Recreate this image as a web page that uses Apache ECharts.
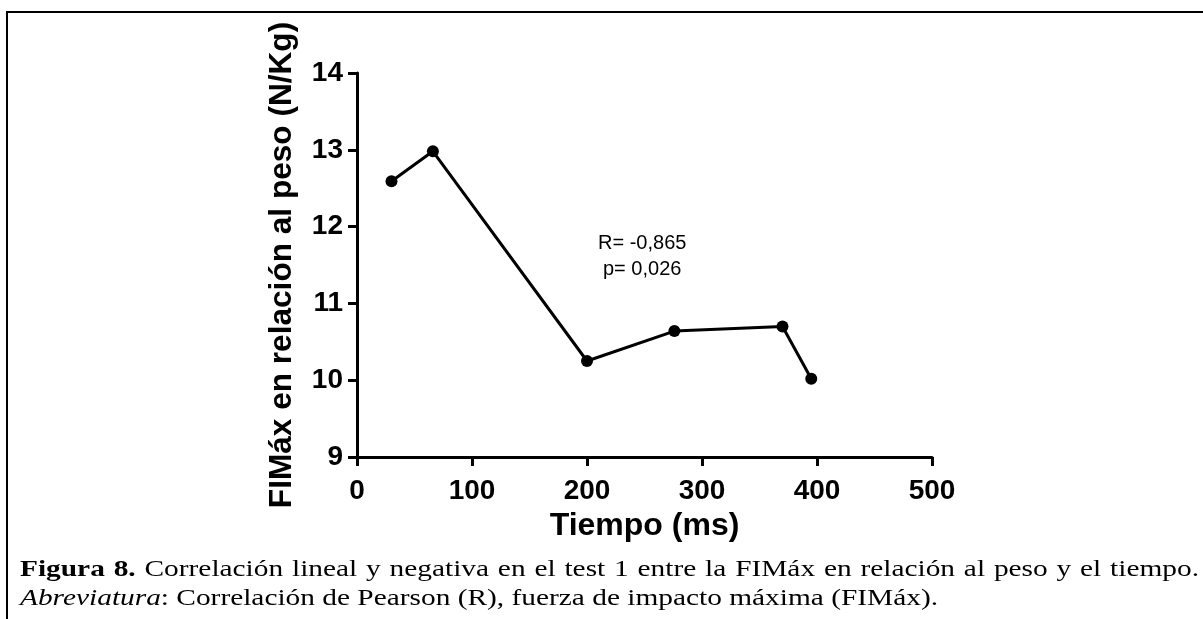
<!DOCTYPE html>
<html>
<head>
<meta charset="utf-8">
<script src="https://cdn.jsdelivr.net/npm/echarts@6/dist/echarts.min.js"></script>
<style>
  html, body { margin: 0; padding: 0; background: #fff; }
  #chart { width: 1203px; height: 619px; }
</style>
</head>
<body>
<div id="chart"></div>
<script>
// values
var tiempo = [30, 66, 200, 276, 370, 395];
var fimax = [12.59, 12.98, 10.25, 10.64, 10.70, 10.02];
var statLines = ['R= -0,865', 'p= 0,026'];
var statPos = [[248, 11.78], [248, 11.44]];
var captionBold = 'Figura 8.';
var captionRest = 'Correlación lineal y negativa en el test 1 entre la FIMáx en relación al peso y el tiempo.';
var abbrItalic = 'Abreviatura';
var abbrRest = ': Correlación de Pearson (R), fuerza de impacto máxima (FIMáx).';

(function () {
  var myChart = echarts.init(document.getElementById('chart'));
  var sans = 'Liberation Sans';
  var serif = 'Liberation Serif';
  var capSize = 23;
  var capLeft = 20, capRight = 1199;

  var points = tiempo.map(function (t, i) { return [t, fimax[i]]; });

  var ctx = document.createElement('canvas').getContext('2d');
  function measure(txt, pre) {
    ctx.font = (pre || '') + capSize + 'px "' + serif + '"';
    return ctx.measureText(txt).width;
  }
  // second line is not justified, so it gives the horizontal scale
  var squeeze = 918 / (measure(abbrItalic, 'italic ') + measure(abbrRest));

  var axisLine = { show: true, onZero: false, lineStyle: { color: '#000', width: 3 } };
  var axisTick = { show: true, length: 9, lineStyle: { color: '#000', width: 3 } };

  var option = {
    animation: false,
    backgroundColor: '#fff',
    grid: { left: 357, right: 271, top: 73, bottom: 162 },
    xAxis: {
      type: 'value',
      min: 0,
      max: 500,
      interval: 100,
      axisLine: axisLine,
      axisTick: axisTick,
      splitLine: { show: false },
      axisLabel: { color: '#000', fontSize: 28, fontWeight: 'bold', fontFamily: sans, margin: 20 },
      name: 'Tiempo (ms)',
      nameLocation: 'middle',
      nameGap: 52,
      nameTextStyle: { color: '#000', fontSize: 32, fontWeight: 'bold', fontFamily: sans }
    },
    yAxis: {
      type: 'value',
      min: 9,
      max: 14,
      interval: 1,
      axisLine: axisLine,
      axisTick: axisTick,
      splitLine: { show: false },
      axisLabel: { color: '#000', fontSize: 28, fontWeight: 'bold', fontFamily: sans, margin: 14 },
      name: 'FIMáx en relación al peso (N/Kg)',
      nameLocation: 'middle',
      nameGap: 59,
      nameTextStyle: { color: '#000', fontSize: 31.6, fontWeight: 'bold', fontFamily: sans }
    },
    series: [{
      type: 'line',
      data: points,
      symbol: 'circle',
      symbolSize: 12,
      lineStyle: { color: '#000', width: 3 },
      itemStyle: { color: '#000' }
    }]
  };
  myChart.setOption(option);

  var graphics = [{
    type: 'rect',
    shape: { x: 7, y: 12, width: 1400, height: 800 },
    style: { fill: null, stroke: '#000', lineWidth: 2 },
    silent: true
  }];

  // first caption line, justified word by word
  var words = [];
  captionBold.split(' ').forEach(function (w) { words.push({ t: w, pre: 'bold ' }); });
  captionRest.split(' ').forEach(function (w) { words.push({ t: w, pre: '' }); });
  var total = 0;
  words.forEach(function (w) { w.w = measure(w.t, w.pre) * squeeze; total += w.w; });
  var gap = (capRight - capLeft - total) / (words.length - 1);
  var cx = capLeft;
  words.forEach(function (w) {
    graphics.push({
      type: 'text',
      x: cx,
      y: 570,
      scaleX: squeeze,
      style: {
        text: w.t,
        fontSize: capSize,
        fontFamily: serif,
        fontWeight: w.pre ? 'bold' : 'normal',
        fill: '#000',
        verticalAlign: 'middle'
      }
    });
    cx += w.w + gap;
  });

  graphics.push({
    type: 'text',
    x: capLeft,
    y: 599,
    scaleX: squeeze,
    style: {
      text: '{i|' + abbrItalic + '}{r|' + abbrRest + '}',
      fill: '#000',
      verticalAlign: 'middle',
      rich: {
        i: { fontStyle: 'italic', fontSize: capSize, fontFamily: serif },
        r: { fontSize: capSize, fontFamily: serif }
      }
    }
  });

  statLines.forEach(function (txt, i) {
    var p = myChart.convertToPixel({ gridIndex: 0 }, statPos[i]);
    graphics.push({
      type: 'text',
      x: p[0],
      y: p[1],
      style: {
        text: txt,
        fontSize: 20,
        fontFamily: sans,
        fill: '#000',
        align: 'center',
        verticalAlign: 'middle'
      }
    });
  });

  myChart.setOption({ graphic: graphics });
})();
</script>
</body>
</html>
